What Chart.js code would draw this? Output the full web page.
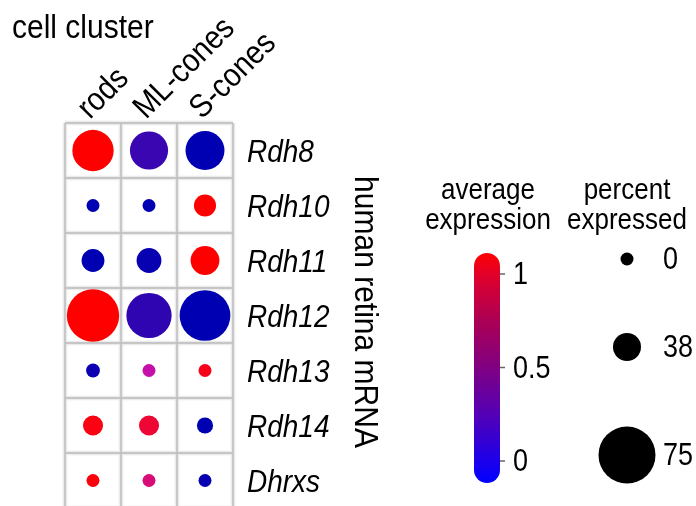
<!DOCTYPE html>
<html>
<head>
<meta charset="utf-8">
<script src="https://cdn.jsdelivr.net/npm/chart.js"></script>
<style>
  html, body { margin: 0; padding: 0; background: #fff; overflow: hidden; }
  #wrap { width: 696px; height: 540px; }
</style>
</head>
<body>
<div id="wrap"><canvas id="dot" width="696" height="540"></canvas></div>
<script>
// dot plot: percent expressed (size) and average expression (colour) per cell cluster

const colLabels = ['rods', 'ML-cones', 'S-cones'];
const geneLabels = ['Rdh8', 'Rdh10', 'Rdh11', 'Rdh12', 'Rdh13', 'Rdh14', 'Dhrxs'];

// percent expressed, one array per cluster, in geneLabels order
const pctRods = [55, 0, 25, 69, 2, 18, 0];
const pctML   = [51, 0, 30, 60, 0, 18, 0];
const pctS    = [52, 23, 39, 67, 0, 8, 0];

// scaled average expression
const avgRods = [1.0, 0.0, 0.0, 1.0, 0.03, 0.97, 0.98];
const avgML   = [0.15, 0.0, 0.02, 0.12, 0.57, 0.9, 0.74];
const avgS    = [0.0, 1.0, 1.0, 0.0, 0.95, 0.0, 0.02];

// legend breaks
const colorTicks = [0, 0.5, 1];
const sizeBreaks = [0, 38, 75];

// size scale range (diameter in px at each break)
const sizeRange = [13, 28, 57];
const FONT = '"Liberation Sans", Arial, sans-serif';
const STRETCH = 1.13; // text in the original is a bit tall and narrow

function diam(p) {
  if (p <= sizeBreaks[1]) return sizeRange[0] + (sizeRange[1] - sizeRange[0]) * (p - sizeBreaks[0]) / (sizeBreaks[1] - sizeBreaks[0]);
  return sizeRange[1] + (sizeRange[2] - sizeRange[1]) * (p - sizeBreaks[1]) / (sizeBreaks[2] - sizeBreaks[1]);
}

function colorFor(v) {
  const h = 240 + 120 * v;
  const s = 100 - 15 * Math.sin(Math.PI * v);
  const l = 35 + 15 * Math.pow(v, 1.5);
  return `hsl(${h}, ${s}%, ${l}%)`;
}

// text drawn with a slight vertical stretch
function txt(ctx, s, x, y, rot) {
  ctx.save();
  ctx.translate(x, y);
  if (rot) ctx.rotate(rot);
  ctx.scale(1, STRETCH);
  ctx.fillText(s, 0, 0);
  ctx.restore();
}

const pctCols = [pctRods, pctML, pctS];
const avgCols = [avgRods, avgML, avgS];
const points = [];
geneLabels.forEach((g, i) => {
  colLabels.forEach((c, j) => {
    points.push({ x: c, y: g, r: diam(pctCols[j][i]) / 2, v: avgCols[j][i] });
  });
});

const cellGrid = {
  id: 'cellGrid',
  beforeDatasetsDraw(chart) {
    const { ctx } = chart;
    const xs = chart.scales.x, ys = chart.scales.y;
    const hx = (xs.getPixelForValue(1) - xs.getPixelForValue(0)) / 2;
    const hy = (ys.getPixelForValue(1) - ys.getPixelForValue(0)) / 2;
    const vx = [], vy = [];
    colLabels.forEach((c, j) => vx.push(xs.getPixelForValue(j) - hx));
    vx.push(xs.getPixelForValue(colLabels.length - 1) + hx);
    geneLabels.forEach((g, i) => vy.push(ys.getPixelForValue(i) - hy));
    vy.push(ys.getPixelForValue(geneLabels.length - 1) + hy);
    const x0 = vx[0], x1 = vx[vx.length - 1], y0 = vy[0], y1 = vy[vy.length - 1];
    ctx.save();
    [[5, '#f3f3f3'], [3, '#e3e3e3'], [1.4, '#bdbdbd']].forEach(([w, col]) => {
      ctx.strokeStyle = col;
      ctx.lineWidth = w;
      ctx.beginPath();
      vx.forEach(x => { ctx.moveTo(x, y0); ctx.lineTo(x, y1); });
      vy.forEach(y => { ctx.moveTo(x0, y); ctx.lineTo(x1, y); });
      ctx.stroke();
    });
    ctx.restore();
  },
  afterDraw(chart) {
    const { ctx } = chart;
    const xs = chart.scales.x, ys = chart.scales.y;
    ctx.save();
    ctx.fillStyle = '#000';

    // title
    ctx.font = `30px ${FONT}`;
    ctx.textAlign = 'left';
    ctx.textBaseline = 'alphabetic';
    txt(ctx, 'cell cluster', 12, 38);

    // column labels at 45 degrees
    ctx.font = `29px ${FONT}`;
    colLabels.forEach((c, j) => {
      txt(ctx, c, xs.getPixelForValue(j) - 3, 120, -Math.PI / 4);
    });

    // gene labels
    ctx.font = `italic 28px ${FONT}`;
    ctx.textBaseline = 'middle';
    geneLabels.forEach((g, i) => {
      txt(ctx, g, 247, ys.getPixelForValue(i) + 3);
    });

    // right axis title
    ctx.save();
    ctx.font = `30px ${FONT}`;
    ctx.translate(364, 312);
    ctx.rotate(Math.PI / 2);
    ctx.scale(1, STRETCH);
    ctx.textAlign = 'center';
    ctx.fillText('human retina mRNA', 0, 0);
    ctx.restore();

    // colour legend
    ctx.font = `26px ${FONT}`;
    ctx.textAlign = 'center';
    txt(ctx, 'average', 488, 191);
    txt(ctx, 'expression', 488, 221);
    txt(ctx, 'percent', 627, 191);
    txt(ctx, 'expressed', 627, 221);

    const barX = 474, barW = 26, barTop = 253, barBot = 483;
    const yOf = v => 461 - v * 187;
    const grad = ctx.createLinearGradient(0, barBot, 0, barTop);
    const stops = [[barBot, '#0000ff'], [yOf(0), '#1c00ea'], [yOf(0.25), '#5400b6'], [yOf(0.5), '#800082'],
                   [yOf(0.75), '#ac0054'], [yOf(1), '#e2002a'], [barTop, '#ff0000']];
    stops.forEach(([y, col]) => grad.addColorStop((barBot - y) / (barBot - barTop), col));
    ctx.fillStyle = grad;
    ctx.beginPath();
    ctx.roundRect(barX, barTop, barW, barBot - barTop, barW / 2);
    ctx.fill();

    ctx.strokeStyle = '#666';
    ctx.lineWidth = 1.5;
    ctx.fillStyle = '#000';
    ctx.font = `27px ${FONT}`;
    ctx.textAlign = 'left';
    colorTicks.forEach(t => {
      const y = yOf(t);
      ctx.beginPath();
      ctx.moveTo(barX + barW, y);
      ctx.lineTo(barX + barW + 5, y);
      ctx.stroke();
      txt(ctx, String(t), 513, y + 2);
    });

    // size legend
    const sizeY = [259, 347, 455];
    sizeBreaks.forEach((b, k) => {
      ctx.beginPath();
      ctx.arc(627, sizeY[k], diam(b) / 2, 0, Math.PI * 2);
      ctx.fill();
      txt(ctx, String(b), 663, sizeY[k] + 2);
    });
    ctx.restore();
  }
};

new Chart(document.getElementById('dot'), {
  type: 'bubble',
  data: {
    datasets: [{
      data: points,
      backgroundColor: ctx => colorFor(ctx.raw.v),
      borderWidth: 0,
      hoverBorderWidth: 0
    }]
  },
  options: {
    responsive: false,
    devicePixelRatio: 1,
    animation: false,
    events: [],
    layout: { padding: { left: 65, top: 123, right: 463, bottom: 32 } },
    plugins: { legend: { display: false }, tooltip: { enabled: false } },
    scales: {
      x: { type: 'category', labels: colLabels, offset: true, display: true,
           grid: { display: false, drawTicks: false }, border: { display: false }, ticks: { display: false } },
      y: { type: 'category', labels: geneLabels, offset: true, display: true,
           grid: { display: false, drawTicks: false }, border: { display: false }, ticks: { display: false } }
    }
  },
  plugins: [cellGrid]
});
</script>
</body>
</html>
